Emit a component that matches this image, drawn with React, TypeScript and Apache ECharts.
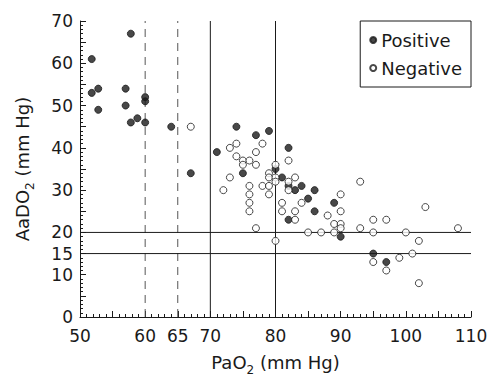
import React, { useEffect, useRef } from "react";
import * as echarts from "echarts";

// PaO2 (x) and AaDO2 (y) values
const positivePoints: [number, number][] = [
  [51.8, 61], [51.8, 53], [52.8, 54], [52.8, 49], [57.8, 67], [57, 54], [57, 50],
  [57.8, 46], [58.8, 47], [60, 46], [60, 52], [60, 51], [64, 45], [67, 34],
  [71, 39], [74, 45], [75, 34], [77, 43], [79, 44], [82, 40], [80, 35], [81, 33],
  [82, 31], [83, 30], [84, 31], [86, 30], [85, 28], [86, 25], [82, 23], [89, 27],
  [90, 19], [95, 15], [97, 13],
];

const negativePoints: [number, number][] = [
  [67, 45], [73, 40], [74, 41], [74, 38], [75, 37], [76, 37], [75, 36], [77, 36],
  [78, 41], [77, 39], [82, 37], [80, 36], [73, 33], [72, 30], [79, 34], [79, 33],
  [80, 33], [83, 33], [80, 32], [82, 32], [76, 31], [78, 31], [79, 31], [76, 29],
  [76, 27], [76, 25], [79, 29], [81, 27], [81, 25], [83, 25], [83, 23], [84, 27],
  [77, 21], [80, 18], [88, 24], [90, 29], [90, 25], [89, 22], [90, 22], [90, 21],
  [89, 20], [85, 20], [87, 20], [93, 32], [93, 21], [95, 23], [97, 23], [95, 20],
  [95, 13], [97, 11], [99, 14], [100, 20], [101, 15], [102, 18], [102, 8], [103, 26],
  [108, 21], [82, 30],
];

const xRange = [50, 110];
const yRange = [0, 70];
const xTickLabels = [50, 60, 65, 70, 80, 90, 100, 110];
const yTickLabels = [0, 10, 15, 20, 30, 40, 50, 60, 70];
const solidVerticalCutoffs = [70, 80];
const dashedVerticalCutoffs = [60, 65];
const horizontalCutoffs = [15, 20];

const FONT = "DejaVu Sans";
const INK = "#1a1a1a";

export default function App() {
  const ref = useRef<HTMLDivElement>(null);

  useEffect(() => {
    if (!ref.current) return;
    const chart = echarts.init(ref.current, undefined, { renderer: "svg" });

    const nameRich = {
      n: { fontSize: 18, fontFamily: FONT, color: INK, lineHeight: 28, verticalAlign: "middle" },
      s: { fontSize: 12, fontFamily: FONT, color: INK, lineHeight: 12, verticalAlign: "bottom" },
    };

    const lineSeries: any[] = [];
    solidVerticalCutoffs.forEach((x) =>
      lineSeries.push({
        type: "line",
        data: [[x, yRange[0]], [x, yRange[1]]],
        symbol: "none",
        silent: true,
        z: 1,
        lineStyle: { color: INK, width: 1 },
      })
    );
    dashedVerticalCutoffs.forEach((x) =>
      lineSeries.push({
        type: "line",
        data: [[x, yRange[0]], [x, yRange[1]]],
        symbol: "none",
        silent: true,
        z: 1,
        lineStyle: { color: "#555", width: 1, type: [8, 6] },
      })
    );
    horizontalCutoffs.forEach((y) =>
      lineSeries.push({
        type: "line",
        data: [[xRange[0], y], [xRange[1], y]],
        symbol: "none",
        silent: true,
        z: 1,
        lineStyle: { color: INK, width: 1 },
      })
    );

    chart.setOption({
      animation: false,
      backgroundColor: "#fff",
      grid: { left: 80, right: 21, top: 21, bottom: 57 },
      legend: {
        data: ["Positive", "Negative"],
        orient: "vertical",
        right: 21,
        top: 21,
        padding: [10, 9, 10, 9],
        itemGap: 10,
        itemWidth: 6,
        itemHeight: 6,
        borderColor: INK,
        borderWidth: 1,
        textStyle: { fontSize: 18, fontFamily: FONT, color: INK },
      },
      xAxis: {
        type: "value",
        min: xRange[0],
        max: xRange[1],
        interval: 5,
        name: "{n|PaO}{s|2}{n| (mm Hg)}",
        nameLocation: "middle",
        nameGap: 31,
        nameTextStyle: { rich: nameRich },
        axisLine: { show: true, lineStyle: { color: INK, width: 1 } },
        axisTick: { show: true, inside: true, length: 6, lineStyle: { color: INK } },
        minorTick: { show: true, splitNumber: 5, length: 3, lineStyle: { color: INK } },
        splitLine: { show: false },
        axisLabel: {
          fontSize: 17,
          fontFamily: FONT,
          color: INK,
          margin: 10,
          formatter: (v: number) => (xTickLabels.includes(v) ? String(v) : ""),
        },
      },
      yAxis: {
        type: "value",
        min: yRange[0],
        max: yRange[1],
        interval: 5,
        name: "{n|AaDO}{s|2}{n| (mm Hg)}",
        nameLocation: "middle",
        nameRotate: 90,
        nameGap: 44,
        nameTextStyle: { rich: nameRich },
        axisLine: { show: true, lineStyle: { color: INK, width: 1 } },
        axisTick: { show: true, inside: true, length: 6, lineStyle: { color: INK } },
        minorTick: { show: true, splitNumber: 5, length: 3, lineStyle: { color: INK } },
        splitLine: { show: false },
        axisLabel: {
          fontSize: 17,
          fontFamily: FONT,
          color: INK,
          margin: 7,
          formatter: (v: number) => (yTickLabels.includes(v) ? String(v) : ""),
        },
      },
      series: [
        ...lineSeries,
        {
          name: "Positive",
          type: "scatter",
          data: positivePoints,
          symbol: "circle",
          symbolSize: 7,
          z: 3,
          itemStyle: { color: INK, borderColor: INK, borderWidth: 1 },
        },
        {
          name: "Negative",
          type: "scatter",
          data: negativePoints,
          symbol: "circle",
          symbolSize: 7,
          z: 3,
          itemStyle: { color: "#fff", borderColor: INK, borderWidth: 1 },
        },
      ],
    });

    return () => chart.dispose();
  }, []);

  return (
    <div
      ref={ref}
      style={{ position: "fixed", left: 0, top: 0, width: 492, height: 381, background: "#fff" }}
    />
  );
}
